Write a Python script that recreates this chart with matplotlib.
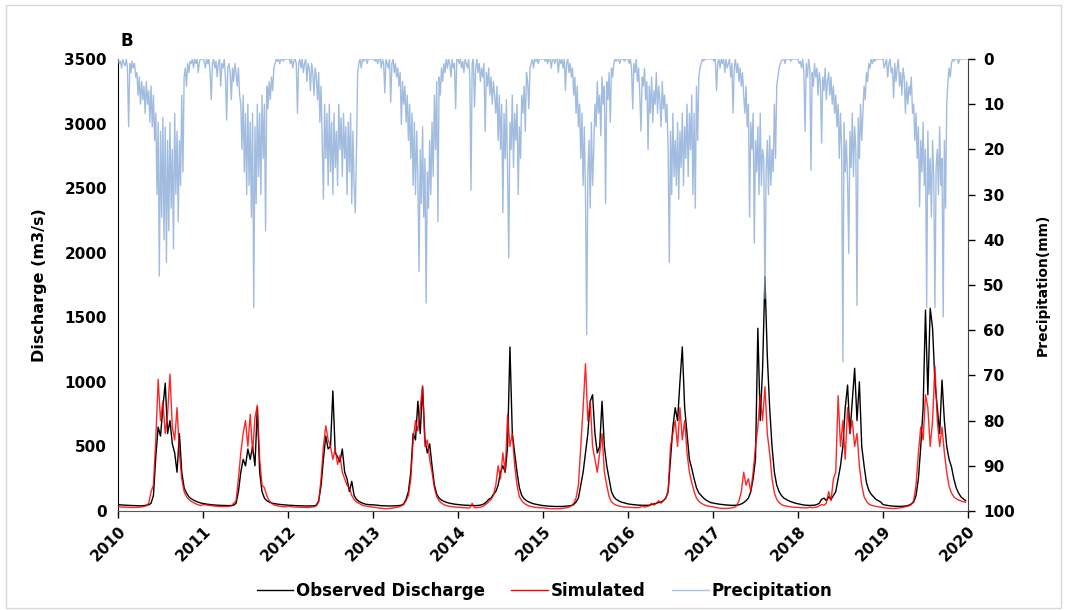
import matplotlib
matplotlib.use("Agg")
import matplotlib.pyplot as plt
from matplotlib.lines import Line2D
from matplotlib.patches import Rectangle
import numpy as np

# ---- data, 2010-2019 ----
years = list(range(2010, 2020))
q_steps_per_year = 36   # discharge readings per year (~10-day)
p_steps_per_year = 72   # precipitation readings per year (~5-day)

observed = [
    # 2010
    50,48,46,45,44,43,42,42,41,40,40,42,45,48,60,120,420,650,580,800,990,600,700,520,450,300,600,300,180,140,110,95,85,75,68,62,
    # 2011
    58,55,52,50,48,46,45,44,43,43,42,42,42,45,60,150,300,400,350,480,400,500,350,800,300,150,100,80,70,62,58,55,52,50,48,47,
    # 2012
    45,44,43,42,41,40,40,39,39,39,40,40,45,80,200,400,580,480,500,930,450,420,380,480,300,250,150,230,120,90,75,65,58,52,50,48,
    # 2013
    48,46,44,42,40,40,39,39,39,40,41,42,45,55,90,150,300,600,550,850,600,960,550,450,520,350,200,130,100,85,75,68,62,58,55,52,
    # 2014
    50,48,46,45,44,43,42,42,42,44,48,55,70,90,100,130,150,200,300,350,300,500,1270,600,450,300,180,120,95,80,70,62,56,52,48,45,
    # 2015
    42,40,38,37,36,35,35,35,35,36,38,40,42,50,70,100,200,300,450,600,850,900,600,450,500,850,500,350,250,150,110,90,80,70,65,60,
    # 2016
    55,52,50,48,46,45,44,44,44,45,50,55,60,65,70,80,100,150,400,650,800,700,1000,1270,800,600,400,330,250,180,140,120,100,85,75,65,
    # 2017
    62,58,55,52,50,48,46,45,44,44,45,48,55,65,80,100,150,250,400,1415,700,1100,1815,1200,800,500,300,200,150,120,100,90,80,72,66,60,
    # 2018
    56,52,48,45,44,43,44,45,50,60,90,100,80,110,90,120,150,250,350,500,800,975,600,850,1105,700,1000,500,350,220,160,130,110,90,80,70,
    # 2019
    50,46,43,40,38,37,36,36,36,38,40,45,55,70,120,250,500,800,1556,900,1570,1415,1000,800,600,1014,700,500,400,343,250,180,139,110,95,80,
]

simulated = [
    # 2010
    35,32,30,30,28,28,27,27,28,30,32,35,40,60,150,200,550,1020,700,850,600,750,1060,650,550,800,450,250,150,110,90,75,65,55,48,42,
    # 2011
    50,48,45,43,40,38,36,35,35,34,34,35,40,60,80,250,450,600,700,500,750,450,720,820,400,200,180,120,80,60,48,42,38,35,33,32,
    # 2012
    38,35,32,30,30,29,28,28,28,28,30,32,40,70,250,500,660,550,500,400,480,360,430,300,250,200,180,120,90,70,60,50,42,38,35,33,
    # 2013
    30,28,25,22,20,18,18,20,22,25,28,32,40,50,80,120,250,550,700,620,800,970,500,550,400,300,180,110,80,60,50,42,38,35,32,30,
    # 2014
    30,28,26,25,24,24,60,25,26,28,32,40,55,70,90,120,200,350,250,450,300,750,500,600,350,200,110,80,60,48,40,35,30,28,26,25,
    # 2015
    25,22,20,18,18,17,17,18,20,22,25,30,40,60,100,200,500,800,1140,700,850,500,400,300,450,600,300,200,110,70,55,45,40,35,32,30,
    # 2016
    30,28,27,26,26,27,40,30,35,40,60,45,60,80,60,80,100,150,500,600,700,500,800,550,700,450,300,220,150,100,75,60,50,42,38,35,
    # 2017
    32,28,25,22,20,20,20,22,25,28,40,80,150,300,200,250,150,300,500,650,900,700,963,600,450,250,140,90,65,50,42,38,35,32,30,28,
    # 2018
    28,26,25,25,24,30,25,28,30,40,50,45,60,150,80,250,300,893,500,700,400,800,600,700,500,600,350,200,110,75,55,45,40,36,33,30,
    # 2019
    26,24,22,20,20,20,22,24,26,30,35,40,50,80,200,450,650,550,900,800,500,700,1123,700,500,650,450,300,190,140,110,95,85,78,72,68,
]

precipitation = [
    # 2010
    0,1,0.5,2,0,1,1.5,0,2,15,1,3,0.5,2,1,4,
    3,8,4,10,5,9,6,12,5,10,7,14,6,15,8,18,
    12,30,14,48,16,35,13,40,15,45,18,38,14,33,20,42,12,30,16,36,18,28,8,25,
    4,2,6,1,3,0.5,1,0,2,0,1,0,3,0.5,0,0,
    # 2011
    0,0.5,2,0,1,0,3,9,1,0,2,0.5,4,1,0,6,
    1,2,0,4,13.5,2,1,3,9,2,5,1,3,6,2,8,
    10,20,8,25,12,30,10,28,14,35,12,55,15,32,10,26,12,30,8,22,10,38,6,11,
    5,9,4,7,2,1,0,0.5,0,1,0,0,0.5,0,0,0,
    # 2012
    0,0,1,0,2,0.5,0,1,12,1,0,2,0,3,1,0,
    5,1,2,7,1,3,8,2,4,9,3,14,6,18,31,10,
    22,12,28,10,25,14,30,12,24,16,28,10,20,13,26,12,22,15,30,14,25,12,32,16,
    28,34,20,3,1,0,2,0,0.5,0,0,1,0,0,0,0,
    # 2013
    0,0,0.5,0,1,0,0,2,0,1,7.5,0,1,2,0,9.5,
    1,0,3,1,4,2,6,3,14.5,5,10,6,14,8,18,10,
    22,12,28,14,30,16,26,47,20,32,15,35,22,54,25,33,18,30,14,26,8,20,5,36,
    4,8,2,5,1,3,0,2,0,1,4,0,2,1,11,0,
    # 2014
    0,1,0,2,0.5,3,0,1,2,0,4,29,1,0,10.6,2,
    0,3,1,5,2,4,1,16,3,6,2,8,4,10,5,8,
    12,6,18,8,20,10,34,12,22,9,25,44,14,20,8,24,12,18,10,30,15,22,8,12,
    6,16,3,5,11,2,1,0,2,0,0.5,0,1,0,0,0,
    # 2015
    0,0,0.5,0,1,0,0,2,0,0,1,0,0,3,0,1,
    0,2,0,7,1,0,3,1,4,2,8,4,12,6,15,10,
    22,12,28,15,30,61,25,18,33,14,28,20,10,15,5,12,8,17,4,10,6,32,5,9,
    3,14,2,4,1,0,0.5,0,0,1,0,0,0,0.5,0,0,
    # 2016
    0,1,0,2,11,1,3,0,5,2,8,16,4,6,2,9,
    5,20,6,12,4,14,7,10,3,12,6,9,15,5,11,8,
    14,10,20,45,16,30,12,26,18,28,14,31,16,24,12,28,15,22,10,26,12,20,8,30,
    12,33,6,18,4,2,1,0,0.5,0,0,0,0,0,0,0,
    # 2017
    0,0.5,0,7,1,0,2,0,1,0,3,0,2,1,0,4,
    1,12,2,0,3,1,5,2,6,3,8,12,6,15,10,35,
    14,20,12,40.7,18,25,15,30,12,28,20,22,53,25,18,30,17,28,20,25,10,22,6,4,
    2,1,0.5,0,0,1,0,0,0,0,0.5,0,0,0,0,0,
    # 2018
    0,1,0.5,2,0,3,16,1,4,0,2,24.6,3,6,1,4,
    2,8,3,5,18.6,4,7,2,9,5,3,8,4,10,6,12,
    8,15,10,22,12,20,67,14,25,18,27,43,16,24,12,26,15,20,54.5,13,22,10,18,12,
    6,9,3,5,1,2,0,1,0,0.5,0,0,0,0,0,0,
    # 2019
    0,2,1,0,4,1,0,3,2,8.6,1,5,2,0,6,3,
    8,2,4,12,5,10,6,8,4,12,10,18,12,22,15,32.7,
    18,25,14,28,20,55,16,30,22,35,18,26,55,24,20,30,15,28,22,57,18,33,10,5,
    2,4,1,0,0.5,0,0,0,1,0,0,0,0,0,0,0,
]

year_ticks = list(range(2010, 2021))
q_ticks = [0, 500, 1000, 1500, 2000, 2500, 3000, 3500]
p_ticks = [0, 10, 20, 30, 40, 50, 60, 70, 80, 90, 100]

# ---- figure ----
t_q = np.array([y + i / q_steps_per_year for y in years for i in range(q_steps_per_year)])
t_p = np.array([y + i / p_steps_per_year for y in years for i in range(p_steps_per_year)])

fig = plt.figure(figsize=(10.67, 6.10), dpi=100)
fig.patches.append(Rectangle((0.006, 0.004), 0.988, 0.988, transform=fig.transFigure,
                             fill=False, edgecolor="#d9d9d9", linewidth=1.0))
ax = fig.add_axes([0.1106, 0.1623, 0.7966, 0.7410])

ax.plot(t_q, observed, color="black", linewidth=1.0, zorder=2)
ax.plot(t_q, simulated, color="#ff0000", linewidth=1.0, alpha=0.85, zorder=3)

ax.set_xlim(2010, 2020)
ax.set_ylim(0, 3500)
ax.set_yticks(q_ticks)
ax.set_xticks(year_ticks)
ax.set_xticklabels([str(y) for y in year_ticks], rotation=45, ha="right", va="top",
                   rotation_mode="anchor", fontsize=11, fontweight="bold")
ax.tick_params(axis="x", direction="out", length=5, width=1, pad=4)
ax.tick_params(axis="y", length=0, pad=8)
for lab in ax.get_yticklabels():
    lab.set_fontweight("bold")
    lab.set_fontsize(11)
ax.spines["top"].set_visible(False)
ax.spines["right"].set_visible(False)
ax.spines["bottom"].set_color("#595959")
ax.set_ylabel("Discharge (m3/s)", fontsize=11.5, fontweight="bold")
ax.yaxis.set_label_coords(-0.083, 0.5)

ax2 = ax.twinx()
ax2.plot(t_p, precipitation, color="#8aacd8", linewidth=1.0, alpha=0.8, zorder=4)
ax2.set_ylim(100, 0)
ax2.set_yticks(p_ticks)
ax2.tick_params(axis="y", direction="out", length=5, width=1, pad=6)
for lab in ax2.get_yticklabels():
    lab.set_fontweight("bold")
    lab.set_fontsize(11)
ax2.spines["top"].set_visible(False)
ax2.spines["left"].set_visible(False)
ax2.spines["bottom"].set_visible(False)
ax2.spines["right"].set_color("#404040")
ax2.set_ylabel("Precipitation(mm)", fontsize=10, fontweight="bold")
ax2.yaxis.set_label_coords(1.08, 0.5)

fig.text(0.113, 0.918, "B", fontsize=12, fontweight="bold", ha="left", va="bottom")

handles = [Line2D([], [], color="black", linewidth=1.0),
           Line2D([], [], color="#ff0000", linewidth=1.0),
           Line2D([], [], color="#a9c1e2", linewidth=1.0)]
fig.legend(handles, ["Observed Discharge", "Simulated", "Precipitation"],
           loc="lower center", bbox_to_anchor=(0.51, -0.008), ncol=3, frameon=False,
           prop={"weight": "bold", "size": 12}, handlelength=2.2, handletextpad=0.15,
           columnspacing=1.6)

fig.savefig("out.png", dpi=100)
